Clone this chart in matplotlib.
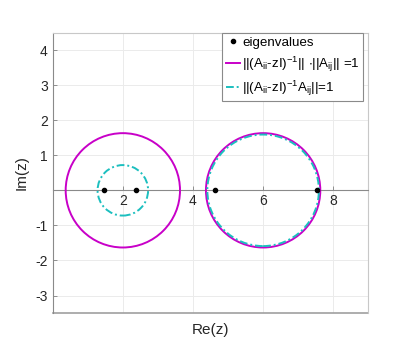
import matplotlib
matplotlib.use('Agg')
import matplotlib.pyplot as plt
from matplotlib.patches import Circle
from matplotlib.lines import Line2D

plt.rcParams['font.family'] = ['Liberation Sans', 'DejaVu Sans']
plt.rcParams['mathtext.fontset'] = 'custom'
plt.rcParams['mathtext.rm'] = 'Liberation Sans'
plt.rcParams['mathtext.it'] = 'Liberation Sans'
plt.rcParams['mathtext.default'] = 'regular'

# eigenvalues (all real)
eig_re = [1.47, 2.38, 4.62, 7.54]
eig_im = [0, 0, 0, 0]

# ||(A_ii - zI)^-1|| * ||A_ij|| = 1 curves
mag_centers = [2.0, 6.0]
mag_radii = [1.63, 1.63]

# ||(A_ii - zI)^-1 A_ij|| = 1 curves
cyan_centers = [2.0, 6.0]
cyan_radii = [0.72, 1.59]

xticks = [2, 4, 6, 8]
yticks = [-3, -2, -1, 0, 1, 2, 3, 4]
yticklabels = ['-3', '-2', '-1', '', '1', '2', '3', '4']

magenta = '#c800c8'
cyan = '#1cbfbf'
dashdot = (0, (4, 1.5, 1, 1.5))

fig = plt.figure(figsize=(4.07, 3.58), dpi=100)
ax = fig.add_axes([0.1295, 0.1249, 0.7755, 0.7849])

for c, r in zip(mag_centers, mag_radii):
    ax.add_patch(Circle((c, 0), r, fill=False, edgecolor=magenta, lw=1.4, zorder=3))
for c, r in zip(cyan_centers, cyan_radii):
    ax.add_patch(Circle((c, 0), r, fill=False, edgecolor=cyan, lw=1.4,
                        linestyle=dashdot, zorder=4))
ax.plot(eig_re, eig_im, 'o', color='k', ms=3, zorder=5)

ax.set_xlim(0, 9)
ax.set_ylim(-3.5, 4.5)
ax.set_aspect('equal')

ax.set_xticks(xticks)
ax.set_yticks(yticks)
ax.set_yticklabels(yticklabels)
ax.tick_params(direction='in', length=3, width=0.6, colors='#808080',
               labelcolor='#262626', labelsize=10)
ax.tick_params(axis='x', pad=3)
ax.grid(True, color='#ebebeb', lw=0.7)
ax.set_axisbelow(True)

# x axis through the origin, box kept around the axes
ax.spines['bottom'].set_position(('data', 0))
ax.spines['bottom'].set_color('#8a8a8a')
ax.spines['left'].set_color('#8a8a8a')
ax.spines['top'].set_color('#c8c8c8')
ax.spines['right'].set_color('#c8c8c8')
for s in ax.spines.values():
    s.set_linewidth(0.8)
ax.plot([0, 1], [0, 0], transform=ax.transAxes, color='#a0a0a0', lw=1.2, clip_on=False)

ax.set_xlabel('Re(z)', fontsize=11, color='#262626')
ax.xaxis.set_label_coords(0.5, -0.035)
ax.set_ylabel('Im(z)', fontsize=11, color='#262626')
ax.yaxis.set_label_coords(-0.075, 0.5)

handles = [
    Line2D([], [], marker='o', ls='none', color='k', ms=3),
    Line2D([], [], color=magenta, lw=1.4),
    Line2D([], [], color=cyan, lw=1.4, linestyle=dashdot),
]
labels = [
    'eigenvalues',
    r'||(A$_{ii}$-zI)$^{-1}$|| $\cdot$||A$_{ij}$|| =1',
    r'||(A$_{ii}$-zI)$^{-1}$A$_{ij}$||=1',
]
leg = ax.legend(handles, labels, loc='upper right', bbox_to_anchor=(0.984, 0.997),
                fontsize=9.6, fancybox=False, framealpha=1, edgecolor='#8a8a8a',
                borderaxespad=0, handlelength=1.1, handletextpad=0.15,
                borderpad=0.25, labelspacing=0.4)
leg.get_frame().set_linewidth(0.8)

fig.savefig('out.png', dpi=100)
